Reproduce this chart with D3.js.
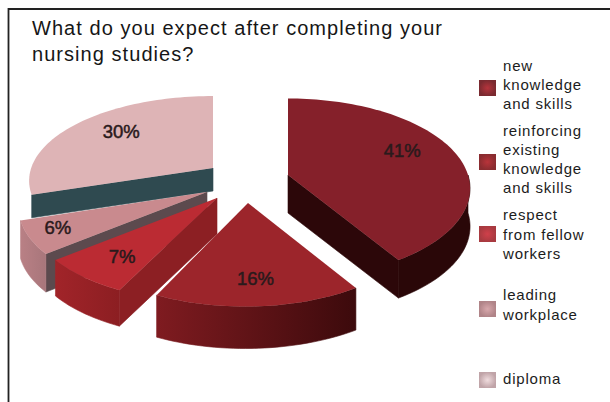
<!DOCTYPE html>
<html>
<head>
<meta charset="utf-8">
<script src="https://cdn.jsdelivr.net/npm/d3@7"></script>
<style>
html,body{margin:0;padding:0;background:#fff}
svg{display:block}
text{font-family:"Liberation Sans",Arial,sans-serif}
</style>
</head>
<body>
<svg id="chart" width="610" height="402"></svg>
<script>
// Survey answers, in pie order starting from twelve o'clock
const categories = ["new knowledge and skills", "reinforcing existing knowledge and skills",
  "respect from fellow workers", "leading workplace", "diploma"];
const shares = [41, 16, 7, 6, 30];
const legendLines = [
  ["new", "knowledge", "and skills"],
  ["reinforcing", "existing", "knowledge", "and skills"],
  ["respect", "from fellow", "workers"],
  ["leading", "workplace"],
  ["diploma"]
];
const titleLines = ["What do you expect after completing your", "nursing studies?"];

// Colours of each wedge: top face, rim wall (left, right), cut-side wall
const topColors  = ["#85202a", "#9c252b", "#bb2b33", "#c98a8e", "#deb4b6"];
const rimLeft    = ["#2a0708", "#7f1b20", "#a12429", "#b98085", "#c49a9c"];
const rimRight   = ["#2a0708", "#3c0a0c", "#8c1e22", "#a8767b", "#a88084"];
const sideColors = ["#2c0709", "#4c0a0e", "#8c1f23", "#5c4a4e", "#2f4a50"];
const swatchCore = ["#b5343c", "#b8343a", "#d0404a", "#d8a8ac", "#f0dcde"];
const swatchEdge = ["#7a2a30", "#8a2c30", "#a83a40", "#b08488", "#c0a4a8"];

// Layout of the exploded wedges: apex on the page, wall height, rim reach, lean
const apexX = [288, 248, 217, 207, 213];
const apexY = [175, 203, 198, 192, 168];
const wallH = [38, 42, 36, 38, 23];
const reachX = [1, 1, 1.02, 1.03, 1.01];
const reachY = [1, 1, 1, 1, 0.94];
const lean = [0, 3, 8, 5, 0];
const hasRim = [true, true, true, true, false];
const sideAngle = ["end", null, "start", "start", "start"];

// Percentage placement on each top face
const labelR = [0.68, 0.76, 0.76, 0.86, 0.66];
const labelDx = [0, 0, 4, 2, 0];
const labelDy = [-8, 0, 0, -3, -6];

const svg = d3.select("#chart");

// Frame rule along the left and top edges
svg.append("path")
  .attr("d", d3.line()([[8.5, 402], [8.5, 9], [610, 9]]))
  .attr("fill", "none").attr("stroke", "#222").attr("stroke-width", 1.8);

svg.selectAll("text.title").data(titleLines).join("text")
  .attr("class", "title")
  .attr("x", 32).attr("y", (d, i) => 35 + i * 26)
  .attr("font-size", 20).attr("letter-spacing", 1.05).attr("fill", "#161616")
  .text(d => d);

// Tilted disc seen in perspective: nearer points are drawn larger
const discRx = 180, discRy = 88, nearness = 0.15;
const project = (i, angle, r) => {
  const u = Math.sin(angle) * r * reachX[i], v = -Math.cos(angle) * r;
  const s = 1 / (1 - nearness * v);
  return [apexX[i] + u * discRx * s - lean[i] * v, apexY[i] + v * discRy * s * reachY[i]];
};

const arcs = d3.pie().sort(null).value(d => d)(shares);
const linePath = d3.line();

const defs = svg.append("defs");
arcs.forEach((a, i) => {
  const g = defs.append("linearGradient").attr("id", "rim" + i)
    .attr("x1", 0).attr("y1", 0).attr("x2", 1).attr("y2", 0);
  g.append("stop").attr("offset", "0%").attr("stop-color", rimLeft[i]);
  g.append("stop").attr("offset", "100%").attr("stop-color", rimRight[i]);
});

const arcPoints = (i, a0, a1) => {
  const steps = Math.max(2, Math.ceil((a1 - a0) / 0.03));
  return d3.range(steps + 1).map(k => project(i, a0 + (a1 - a0) * k / steps, 1));
};
const lowered = (pts, h) => pts.map(([x, y]) => [x, y + h]);

const wedge = i => {
  const a = arcs[i];
  const g = svg.append("g").attr("class", "wedge");
  const apex = project(i, 0, 0);
  const h = wallH[i];

  // Cut-side wall that turns toward the viewer
  if (sideAngle[i]) {
    const angle = sideAngle[i] === "end" ? a.endAngle : a.startAngle;
    const edge = [apex, project(i, angle, 1)];
    g.append("path")
      .attr("d", linePath(edge.concat(lowered(edge, h).reverse())) + "Z")
      .attr("fill", sideColors[i]).attr("stroke", sideColors[i]).attr("stroke-width", 0.6);
  }

  // Rim wall for the part of the arc that faces the viewer
  const front0 = Math.max(a.startAngle, Math.PI / 2);
  const front1 = Math.min(a.endAngle, Math.PI * 1.5);
  if (hasRim[i] && front1 > front0) {
    const rim = arcPoints(i, front0, front1);
    g.append("path")
      .attr("d", linePath(rim.concat(lowered(rim, h).reverse())) + "Z")
      .attr("fill", `url(#rim${i})`).attr("stroke", `url(#rim${i})`).attr("stroke-width", 0.6);
  }

  // Top face
  g.append("path")
    .attr("d", linePath([apex].concat(arcPoints(i, a.startAngle, a.endAngle))) + "Z")
    .attr("fill", topColors[i]);

  // Percentage on the top face
  const mid = (a.startAngle + a.endAngle) / 2;
  const [lx, ly] = project(i, mid, labelR[i]);
  g.append("text")
    .attr("x", lx + labelDx[i]).attr("y", ly + labelDy[i]).attr("dy", "0.35em")
    .attr("text-anchor", "middle")
    .attr("font-size", 18.5).attr("fill", "#2a1a1c")
    .attr("stroke", "#2a1a1c").attr("stroke-width", 0.5)
    .text(a.data + "%");
};

// Back wedge first, front wedges over it
[4, 3, 2, 0, 1].forEach(wedge);

// Legend: swatch and text block have their own vertical centres
const swatchMid = [88, 162, 234, 309, 380];
const textMid = [85, 159.5, 234.5, 305, 379];
const lineStep = d3.scaleLinear().domain([0, 1]).range([0, 19.2]);
const legendG = svg.append("g").attr("class", "legend");
categories.forEach((name, i) => {
  const row = legendG.append("g").attr("data-category", name);
  const sg = defs.append("radialGradient").attr("id", "swatch" + i);
  sg.append("stop").attr("offset", "0%").attr("stop-color", swatchCore[i]);
  sg.append("stop").attr("offset", "100%").attr("stop-color", swatchEdge[i]);
  row.append("rect")
    .attr("x", 479).attr("y", swatchMid[i] - 8).attr("width", 17).attr("height", 16)
    .attr("fill", `url(#swatch${i})`);
  const lines = legendLines[i];
  row.selectAll("text").data(lines).join("text")
    .attr("x", 503)
    .attr("y", (d, k) => textMid[i] + 5 + lineStep(k - (lines.length - 1) / 2))
    .attr("font-size", 15).attr("letter-spacing", 0.8).attr("fill", "#1c1c1c")
    .text(d => d);
});
</script>
</body>
</html>
